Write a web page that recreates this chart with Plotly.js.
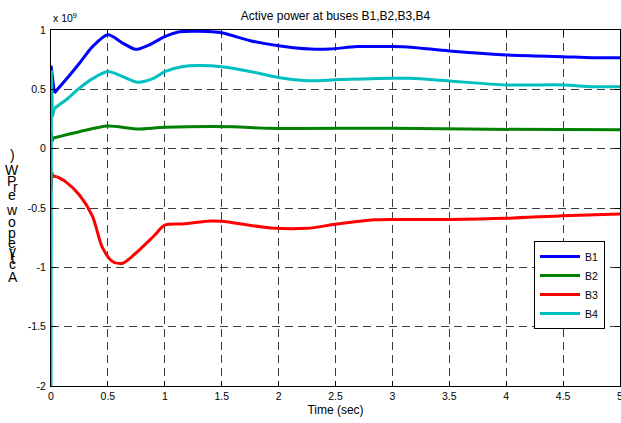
<!DOCTYPE html>
<html>
<head>
<meta charset="utf-8">
<script src="https://cdn.plot.ly/plotly-3.0.1.min.js"></script>
<style>
  html, body { margin: 0; padding: 0; background: #ffffff; }
  #plot { width: 621px; height: 423px; }
</style>
</head>
<body>
<div id="plot"></div>
<script>
// Active power at buses B1..B4, in units of 10^9 W, versus time in seconds.
const seriesNames = ["B1", "B2", "B3", "B4"];
const seriesColors = ["#0000ff", "#008000", "#ff0000", "#00bfbf"];

const timeB1 = [0, 0.03, 0.13, 0.25, 0.365, 0.5, 0.63, 0.745, 0.86, 1.0, 1.13, 1.3, 1.5, 1.75, 2.0, 2.28, 2.45, 2.69, 3.0, 3.16, 3.5, 4.0, 4.5, 4.76, 5.0];
const powerB1 = [0.70, 0.47, 0.58, 0.72, 0.86, 0.96, 0.89, 0.837, 0.873, 0.944, 0.985, 0.99, 0.977, 0.91, 0.868, 0.84, 0.84, 0.86, 0.86, 0.855, 0.823, 0.79, 0.775, 0.767, 0.767];

const timeB2 = [0, 0.008, 0.02, 0.25, 0.5, 0.75, 1.0, 1.6, 1.9, 3.0, 3.85, 5.0];
const powerB2 = [0.14, 0.06, 0.09, 0.143, 0.19, 0.166, 0.18, 0.185, 0.172, 0.172, 0.163, 0.16];

const timeB3 = [0, 0.008, 0.015, 0.05, 0.13, 0.25, 0.365, 0.45, 0.54, 0.63, 0.78, 0.9, 1.0, 1.15, 1.25, 1.4, 1.5, 1.93, 2.25, 2.5, 2.84, 3.0, 3.5, 4.0, 4.5, 5.0];
const powerB3 = [-0.36, -0.2, -0.23, -0.236, -0.28, -0.39, -0.57, -0.83, -0.95, -0.965, -0.85, -0.74, -0.645, -0.635, -0.625, -0.61, -0.612, -0.668, -0.671, -0.637, -0.60, -0.596, -0.596, -0.587, -0.565, -0.55];

const timeB4 = [0, 0.003, 0.012, 0.03, 0.13, 0.25, 0.365, 0.5, 0.63, 0.76, 0.9, 1.0, 1.15, 1.3, 1.5, 1.75, 2.0, 2.25, 2.5, 2.75, 3.0, 3.16, 3.5, 4.0, 4.5, 4.76, 5.0];
const powerB4 = [-2.0, 0.66, 0.27, 0.34, 0.41, 0.51, 0.59, 0.65, 0.607, 0.56, 0.593, 0.65, 0.69, 0.70, 0.69, 0.65, 0.60, 0.573, 0.58, 0.588, 0.593, 0.593, 0.57, 0.537, 0.537, 0.522, 0.522];

const xTickVals = [0, 0.5, 1, 1.5, 2, 2.5, 3, 3.5, 4, 4.5, 5];
const xTickText = ["0", "0.5", "1", "1.5", "2", "2.5", "3", "3.5", "4", "4.5", "5"];
const yTickVals = [-2, -1.5, -1, -0.5, 0, 0.5, 1];
const yTickText = ["-2", "-1.5", "-1", "-0.5", "0", "0.5", "1"];

const chartTitle = "Active power at buses B1,B2,B3,B4";
const xTitle = "Time (sec)";
const scaleNote = "x 10<sup>9</sup>";
// vertical axis caption, printed one glyph per row from the top down
const yCaptionGlyphs = [")", "W", "P", "r", "e", "w", "o", "p", "e", "v", "i", "t", "c", "A"];

const W = 621, H = 423;
const M = { l: 51, r: 1, t: 30, b: 37 };
const plotH = H - M.t - M.b;
const FONT = "Arial, 'Liberation Sans', sans-serif";
const NARROW = "'Liberation Sans Narrow', 'Arial Narrow', 'Liberation Sans', Arial, sans-serif";

// pixel row (from top of page) -> paper y
const py = (p) => (H - M.b - p) / plotH;

const times = [timeB1, timeB2, timeB3, timeB4];
const powers = [powerB1, powerB2, powerB3, powerB4];

// first few samples hold the switching transient (drawn straight),
// the rest is the smooth electromechanical response
const transientLen = [2, 3, 4, 4];

const traces = [];
seriesNames.forEach((name, i) => {
  const k = transientLen[i];
  traces.push({
    type: "scatter", mode: "lines", name: name,
    legendgroup: name, showlegend: true,
    x: times[i].slice(0, k), y: powers[i].slice(0, k),
    line: { color: seriesColors[i], width: 3 },
    hoverinfo: "skip"
  });
  traces.push({
    type: "scatter", mode: "lines", name: name,
    legendgroup: name, showlegend: false,
    x: times[i].slice(k - 1), y: powers[i].slice(k - 1),
    line: { color: seriesColors[i], width: 3, shape: "spline", smoothing: 0.8 },
    hoverinfo: "skip"
  });
});

// caption rows (pixel centres)
const captionRows = [155, 170, 181, 187, 195, 210, 222, 233, 243, 251, 255, 259, 264, 277];
const captionCols = [12, 12, 11, 15, 12, 12, 12, 12, 12, 12, 11, 13, 12, 13];

const annotations = yCaptionGlyphs.map((g, i) => ({
  text: g,
  xref: "paper", yref: "paper",
  x: (captionCols[i] - M.l) / (W - M.l - M.r),
  y: py(captionRows[i]),
  xanchor: "center", yanchor: "middle",
  showarrow: false,
  font: { family: NARROW, size: 14, color: "#000" }
}));

annotations.push({
  text: scaleNote,
  xref: "paper", yref: "paper",
  x: 0, y: py(26),
  xanchor: "left", yanchor: "bottom",
  showarrow: false,
  font: { family: FONT, size: 10.5, color: "#000" }
});

const axisCommon = {
  showline: true, linecolor: "#000", linewidth: 1,
  mirror: "ticks",
  ticks: "inside", ticklen: 5, tickwidth: 1, tickcolor: "#000",
  showgrid: true, gridcolor: "#3c3c3c", gridwidth: 1, griddash: "8px,5px",
  zeroline: false,
  tickfont: { family: FONT, size: 10.5, color: "#000" },
  ticklabeloverflow: "allow",
  tickmode: "array",
  fixedrange: true
};

const layout = {
  width: W, height: H,
  margin: M,
  paper_bgcolor: "#fff",
  plot_bgcolor: "#fff",
  showlegend: true,
  title: {
    text: chartTitle,
    font: { family: FONT, size: 12, color: "#000" },
    x: 0.5, xref: "paper", xanchor: "center",
    y: 1 - 16 / H, yref: "container", yanchor: "middle"
  },
  xaxis: Object.assign({}, axisCommon, {
    range: [0, 5],
    tickvals: xTickVals, ticktext: xTickText,
    title: { text: xTitle, font: { family: FONT, size: 12, color: "#000" }, standoff: 5 }
  }),
  yaxis: Object.assign({}, axisCommon, {
    range: [-2, 1],
    tickvals: yTickVals, ticktext: yTickText,
    ticklabelstandoff: 2
  }),
  legend: {
    x: (534 - M.l) / (W - M.l - M.r), y: py(241),
    xanchor: "left", yanchor: "top",
    bgcolor: "#fff", bordercolor: "#000", borderwidth: 1,
    font: { family: FONT, size: 10.5, color: "#000" },
    itemwidth: 40,
    tracegroupgap: 0
  },
  annotations: annotations
};

Plotly.newPlot("plot", traces, layout, { displayModeBar: false, staticPlot: true });
</script>
</body>
</html>
